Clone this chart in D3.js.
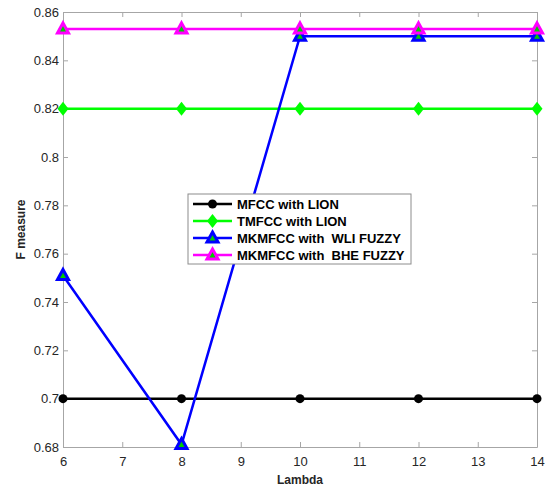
<!DOCTYPE html>
<html>
<head>
<meta charset="utf-8">
<script src="https://cdn.jsdelivr.net/npm/d3@7"></script>
<style>
  body { margin: 0; background: #fff; }
  text { font-family: Arial, "Liberation Sans", sans-serif; }
</style>
</head>
<body>
<div id="chart"></div>
<script>
// data
var lambdas = [6, 8, 10, 12, 14];
var mfccLion = [0.70, 0.70, 0.70, 0.70, 0.70];
var tmfccLion = [0.82, 0.82, 0.82, 0.82, 0.82];
var wliFuzzy = [0.751, 0.681, 0.85, 0.85, 0.85];
var bheFuzzy = [0.853, 0.853, 0.853, 0.853, 0.853];
var xTicks = [6, 7, 8, 9, 10, 11, 12, 13, 14];
var yTicks = [0.68, 0.7, 0.72, 0.74, 0.76, 0.78, 0.8, 0.82, 0.84, 0.86];
var seriesNames = ["MFCC with LION", "TMFCC with LION", "MKMFCC with  WLI FUZZY", "MKMFCC with  BHE FUZZY"];

var svgWidth = 549;
var svgHeight = 489;
var margin = { top: 12, right: 12, bottom: 42, left: 63 };
var width = 537 - margin.left;
var height = 447 - margin.top;

var svg = d3.select("#chart").append("svg")
  .attr("width", svgWidth)
  .attr("height", svgHeight);

var chartGroup = svg.append("g")
  .attr("transform", `translate(${margin.left}, ${margin.top})`);

var xScale = d3.scaleLinear().domain([6, 14]).range([0, width]);
var yScale = d3.scaleLinear().domain([0.68, 0.86]).range([height, 0]);

// axes, MATLAB style box with inward ticks
var axisColor = "#a6a6a6";
var tickColor = "#262626";

function styleAxis(g) {
  g.select(".domain").attr("stroke", axisColor);
  g.selectAll(".tick line").attr("stroke", axisColor);
  g.selectAll(".tick text").attr("fill", tickColor).style("font-size", "13px");
}

chartGroup.append("g")
  .attr("transform", `translate(0, ${height})`)
  .call(d3.axisBottom(xScale).tickValues(xTicks).tickSize(-5).tickSizeOuter(0).tickPadding(10).tickFormat(d3.format("d")))
  .call(styleAxis);

chartGroup.append("g")
  .call(d3.axisTop(xScale).tickValues(xTicks).tickSize(-5).tickSizeOuter(0).tickFormat(""))
  .call(styleAxis);

chartGroup.append("g")
  .call(d3.axisLeft(yScale).tickValues(yTicks).tickSize(-5).tickSizeOuter(0).tickPadding(4).tickFormat(d => String(+d.toFixed(2))))
  .call(styleAxis);

chartGroup.append("g")
  .attr("transform", `translate(${width}, 0)`)
  .call(d3.axisRight(yScale).tickValues(yTicks).tickSize(-5).tickSizeOuter(0).tickFormat(""))
  .call(styleAxis);

// axis titles
chartGroup.append("text")
  .attr("x", width / 2)
  .attr("y", height + 37)
  .attr("text-anchor", "middle")
  .attr("fill", tickColor)
  .style("font-size", "12px")
  .style("font-weight", "bold")
  .text("Lambda");

chartGroup.append("text")
  .attr("transform", "rotate(-90)")
  .attr("x", -height / 2)
  .attr("y", -38)
  .attr("text-anchor", "middle")
  .attr("fill", tickColor)
  .style("font-size", "12px")
  .style("font-weight", "bold")
  .text("F measure");

var series = [
  { name: seriesNames[0], values: mfccLion, color: "#000000", marker: "circle" },
  { name: seriesNames[1], values: tmfccLion, color: "#00ff00", marker: "diamond" },
  { name: seriesNames[2], values: wliFuzzy, color: "#0000ff", marker: "triangle" },
  { name: seriesNames[3], values: bheFuzzy, color: "#ff00ff", marker: "triangle" }
];

var line = d3.line()
  .x((d, i) => xScale(lambdas[i]))
  .y(d => yScale(d));

function drawMarker(g, s, x, y) {
  if (s.marker === "circle") {
    g.append("circle").attr("cx", x).attr("cy", y).attr("r", 4.5)
      .attr("fill", s.color);
  } else if (s.marker === "diamond") {
    g.append("path")
      .attr("d", `M${x},${y - 7}L${x + 5.5},${y}L${x},${y + 7}L${x - 5.5},${y}Z`)
      .attr("fill", s.color);
  } else {
    g.append("path")
      .attr("d", `M${x},${y - 6}L${x + 5.5},${y + 4}L${x - 5.5},${y + 4}Z`)
      .attr("fill", "#00cc00")
      .attr("stroke", s.color)
      .attr("stroke-width", 3)
      .attr("stroke-linejoin", "miter");
  }
}

series.forEach(function(s) {
  var g = chartGroup.append("g");
  g.append("path")
    .datum(s.values)
    .attr("d", line)
    .attr("fill", "none")
    .attr("stroke", s.color)
    .attr("stroke-width", 2.5);
  s.values.forEach(function(v, i) {
    drawMarker(g, s, xScale(lambdas[i]), yScale(v));
  });
});

// legend
var legend = svg.append("g").attr("transform", "translate(188, 194)");
legend.append("rect")
  .attr("x", 0).attr("y", 0)
  .attr("width", 223).attr("height", 70)
  .attr("fill", "#fff")
  .attr("stroke", "#8c8c8c")
  .attr("stroke-width", 1);

series.forEach(function(s, i) {
  var y = 10 + i * 17;
  var row = legend.append("g");
  row.append("line")
    .attr("x1", 5).attr("x2", 44)
    .attr("y1", y).attr("y2", y)
    .attr("stroke", s.color)
    .attr("stroke-width", 2.5);
  drawMarker(row, s, 24.5, y);
  row.append("text")
    .attr("x", 49)
    .attr("y", y + 4.5)
    .attr("fill", "#000")
    .style("font-size", "13px")
    .style("font-weight", "bold")
    .style("white-space", "pre")
    .text(s.name);
});
</script>
</body>
</html>
